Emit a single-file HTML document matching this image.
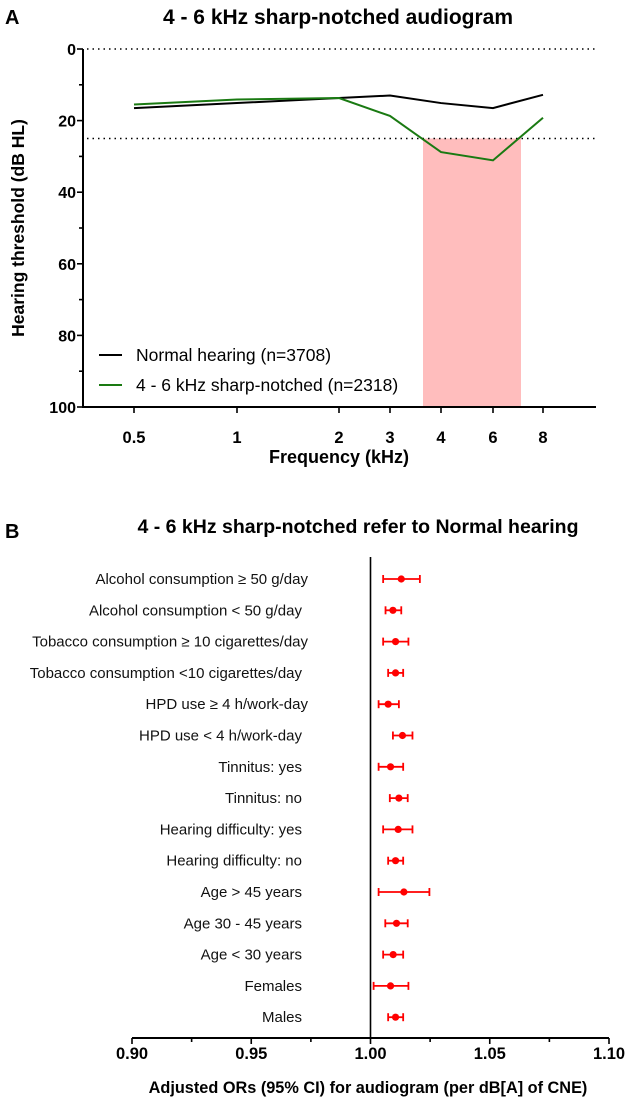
<!DOCTYPE html>
<html><head><meta charset="utf-8"><style>
html,body{margin:0;padding:0;background:#fff;}
svg{display:block;font-family:"Liberation Sans",Arial,sans-serif;}
</style></head><body>
<svg id="fig" width="630" height="1102" viewBox="0 0 630 1102" xmlns="http://www.w3.org/2000/svg">
<g id="pa"></g>
<g id="pb"></g>
</svg>
<script>
// Panel A data
const freqLabels = ["0.5","1","2","3","4","6","8"];
const normalHearing = [16.5,15.1,13.7,13.0,15.1,16.5,12.8];
const sharpNotched = [15.5,14.1,13.7,18.7,28.8,31.1,19.2];
const yTicksA = [0,20,40,60,80,100];
// Panel B data
const factors = ["Alcohol consumption \u2265 50 g/day","Alcohol consumption < 50 g/day","Tobacco consumption \u2265 10 cigarettes/day","Tobacco consumption <10 cigarettes/day","HPD use \u2265 4 h/work-day","HPD use < 4 h/work-day","Tinnitus: yes","Tinnitus: no","Hearing difficulty: yes","Hearing difficulty: no","Age > 45 years","Age 30 - 45 years","Age < 30 years","Females","Males"];
const orValues = [1.0129,1.0094,1.0105,1.0105,1.0074,1.0134,1.0084,1.0119,1.0116,1.0105,1.0140,1.0109,1.0095,1.0084,1.0105];
const ciLow = [1.0053,1.0063,1.0053,1.0074,1.0034,1.0094,1.0034,1.0081,1.0053,1.0074,1.0034,1.0062,1.0053,1.0013,1.0074];
const ciHigh = [1.0207,1.0129,1.0159,1.0137,1.0119,1.0176,1.0137,1.0156,1.0176,1.0137,1.0247,1.0156,1.0137,1.0159,1.0137];
const xTicksB = ["0.90","0.95","1.00","1.05","1.10"];

const NS="http://www.w3.org/2000/svg";
function mk(parent,tag,attrs,text){const e=document.createElementNS(NS,tag);for(const k in attrs)e.setAttribute(k,attrs[k]);if(text!==undefined)e.textContent=text;parent.appendChild(e);return e;}

// ---- Panel A ----
const pa=document.getElementById('pa');
const ax0=83, ax1=596, yTop=49, yBot=407;
const xPosA=i=>134+[0,103,205,256,307,359,409][i];
const yA=v=>yTop+(v/100)*(yBot-yTop);
let t;
t=mk(pa,'text',{x:5,y:24,'font-size':20,'font-weight':'bold'},'A');

t=mk(pa,'text',{x:338,y:24,'font-size':21,'font-weight':'bold','text-anchor':'middle'},'4 - 6 kHz sharp-notched audiogram');

const sh=mk(pa,'rect',{x:xPosA(4)-18,y:yA(25),width:(xPosA(5)-xPosA(4))+46,height:yBot-yA(25),fill:'#ffbdbd'});

[0,25].forEach(v=>{const l=mk(pa,'line',{x1:ax0+4,x2:ax1,y1:yA(v),y2:yA(v),stroke:'#000','stroke-width':1.6,'stroke-dasharray':'1.5 4'});
});
let a=mk(pa,'line',{x1:ax0,x2:ax0,y1:yTop,y2:yBot+1,stroke:'#000','stroke-width':2});

a=mk(pa,'line',{x1:ax0-1,x2:ax1,y1:yBot,y2:yBot,stroke:'#000','stroke-width':2});

for(let v=0;v<=100;v+=10){const major=v%20===0;mk(pa,'line',{x1:ax0-(major?6:4),x2:ax0,y1:yA(v),y2:yA(v),stroke:'#000','stroke-width':1.6});}
yTicksA.forEach(v=>{const e=mk(pa,'text',{x:ax0-7,y:yA(v)+6,'font-size':16,'font-weight':'bold','text-anchor':'end'},String(v));
});
freqLabels.forEach((f,i)=>{mk(pa,'line',{x1:xPosA(i),x2:xPosA(i),y1:yBot,y2:yBot+6,stroke:'#000','stroke-width':1.6});
const e=mk(pa,'text',{x:xPosA(i),y:443,'font-size':16.5,'font-weight':'bold','text-anchor':'middle'},f);
});
t=mk(pa,'text',{x:339,y:463,'font-size':18,'font-weight':'bold','text-anchor':'middle'},'Frequency (kHz)');

t=mk(pa,'text',{x:0,y:0,'font-size':17.5,'font-weight':'bold','text-anchor':'middle',transform:'translate(24,228) rotate(-90)'},'Hearing threshold (dB HL)');

function series(vals,color,name){const p=mk(pa,'polyline',{points:vals.map((v,i)=>xPosA(i)+','+yA(v)).join(' '),fill:'none',stroke:color,'stroke-width':2});
}
series(normalHearing,'#000','normal-hearing-line');
series(sharpNotched,'#1a7a12','sharp-notched-line');
[['#000','Normal hearing (n=3708)',355],['#1a7a12','4 - 6 kHz sharp-notched (n=2318)',385]].forEach(([c,l,y])=>{
const g=mk(pa,'g',{});
mk(g,'line',{x1:99,x2:122,y1:y,y2:y,stroke:c,'stroke-width':2});
mk(g,'text',{x:136,y:y+6,'font-size':17.5},l);});

// ---- Panel B ----
const pb=document.getElementById('pb');
const bx0=132, bx1=609, bAxisY=1038;
const xB=v=>bx0+(v-0.9)/0.2*(bx1-bx0);
const yB=i=>579+i*31.3;
t=mk(pb,'text',{x:5,y:538,'font-size':20,'font-weight':'bold'},'B');

t=mk(pb,'text',{x:358,y:533,'font-size':19.5,'font-weight':'bold','text-anchor':'middle'},'4 - 6 kHz sharp-notched refer to Normal hearing');

a=mk(pb,'line',{x1:xB(1),x2:xB(1),y1:557,y2:bAxisY,stroke:'#000','stroke-width':1.6});

a=mk(pb,'line',{x1:bx0,x2:bx1,y1:bAxisY,y2:bAxisY,stroke:'#000','stroke-width':2});

for(let k=0;k<=8;k++){const v=0.9+k*0.025;mk(pb,'line',{x1:xB(v),x2:xB(v),y1:bAxisY,y2:bAxisY+(k%2?4:6),stroke:'#000','stroke-width':1.6});}
xTicksB.forEach(s=>{const e=mk(pb,'text',{x:xB(parseFloat(s)),y:1059,'font-size':16.5,'font-weight':'bold','text-anchor':'middle'},s);
});
t=mk(pb,'text',{x:368,y:1093,'font-size':16.3,'font-weight':'bold','text-anchor':'middle'},'Adjusted ORs (95% CI) for audiogram (per dB[A] of CNE)');

factors.forEach((f,i)=>{const y=yB(i);
const lab=mk(pb,'text',{x:f.indexOf('\u2265')>=0?308:302,y:y+5,'font-size':15,'text-anchor':'end',fill:'#111'},f);

const g=mk(pb,'g',{stroke:'#ff0000','stroke-width':1.8});

mk(g,'line',{x1:xB(ciLow[i]),x2:xB(ciHigh[i]),y1:y,y2:y});
mk(g,'line',{x1:xB(ciLow[i]),x2:xB(ciLow[i]),y1:y-4,y2:y+4});
mk(g,'line',{x1:xB(ciHigh[i]),x2:xB(ciHigh[i]),y1:y-4,y2:y+4});
mk(g,'circle',{cx:xB(orValues[i]),cy:y,r:3.6,fill:'#ff0000',stroke:'none'});
});
</script>
</body></html>
